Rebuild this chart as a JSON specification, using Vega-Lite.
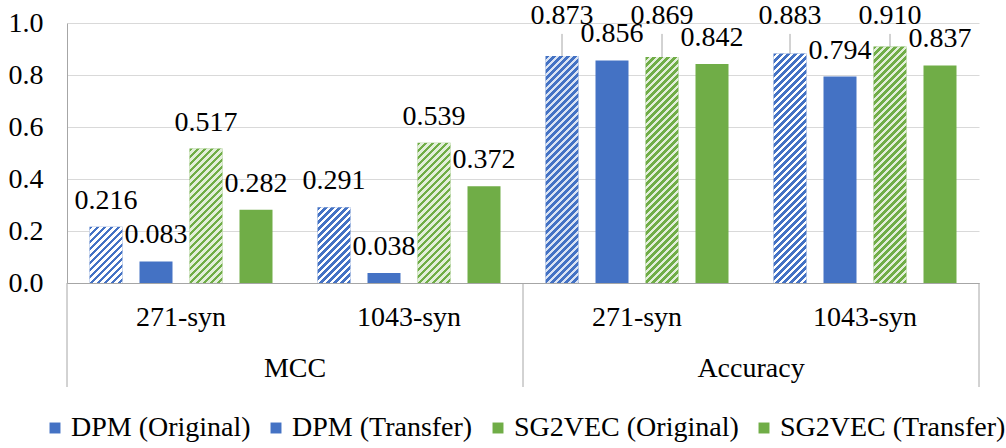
{
  "$schema": "https://vega.github.io/schema/vega-lite/v6.json",
  "padding": {"left": 8, "top": 1, "right": 0, "bottom": 0},
  "width": 912,
  "height": 260,
  "data": {
    "values": [
      {"metric": "MCC", "dataset": "271-syn", "series": "DPM (Original)", "value": 0.216},
      {"metric": "MCC", "dataset": "271-syn", "series": "DPM (Transfer)", "value": 0.083},
      {"metric": "MCC", "dataset": "271-syn", "series": "SG2VEC (Original)", "value": 0.517},
      {"metric": "MCC", "dataset": "271-syn", "series": "SG2VEC (Transfer)", "value": 0.282},
      {"metric": "MCC", "dataset": "1043-syn", "series": "DPM (Original)", "value": 0.291},
      {"metric": "MCC", "dataset": "1043-syn", "series": "DPM (Transfer)", "value": 0.038},
      {"metric": "MCC", "dataset": "1043-syn", "series": "SG2VEC (Original)", "value": 0.539},
      {"metric": "MCC", "dataset": "1043-syn", "series": "SG2VEC (Transfer)", "value": 0.372},
      {"metric": "Accuracy", "dataset": "271-syn", "series": "DPM (Original)", "value": 0.873},
      {"metric": "Accuracy", "dataset": "271-syn", "series": "DPM (Transfer)", "value": 0.856},
      {"metric": "Accuracy", "dataset": "271-syn", "series": "SG2VEC (Original)", "value": 0.869},
      {"metric": "Accuracy", "dataset": "271-syn", "series": "SG2VEC (Transfer)", "value": 0.842},
      {"metric": "Accuracy", "dataset": "1043-syn", "series": "DPM (Original)", "value": 0.883},
      {"metric": "Accuracy", "dataset": "1043-syn", "series": "DPM (Transfer)", "value": 0.794},
      {"metric": "Accuracy", "dataset": "1043-syn", "series": "SG2VEC (Original)", "value": 0.910},
      {"metric": "Accuracy", "dataset": "1043-syn", "series": "SG2VEC (Transfer)", "value": 0.837}
    ]
  },
  "transform": [
    {"calculate": "datum.metric + '|' + datum.dataset", "as": "group"}
  ],
  "encoding": {
    "x": {
      "field": "group", "type": "nominal",
      "sort": ["MCC|271-syn", "MCC|1043-syn", "Accuracy|271-syn", "Accuracy|1043-syn"],
      "scale": {"paddingInner": 0, "paddingOuter": 0}
    }
  },
  "layer": [
    {
      "mark": {"type": "bar"},
      "encoding": {
        "x": {
          "field": "group", "type": "nominal",
          "sort": ["MCC|271-syn", "MCC|1043-syn", "Accuracy|271-syn", "Accuracy|1043-syn"],
          "axis": {"title": null, "labelAngle": 0, "labelPadding": 20, "ticks": false, "domainColor": "#a6a6a6", "labelExpr": "split(datum.label, '|')[1]"}
        },
        "xOffset": {
          "field": "series", "type": "nominal",
          "sort": ["DPM (Original)", "DPM (Transfer)", "SG2VEC (Original)", "SG2VEC (Transfer)"],
          "scale": {"paddingInner": 0.34, "paddingOuter": 0.45}
        },
        "y": {
          "field": "value", "type": "quantitative", "stack": null,
          "scale": {"domain": [0, 1], "nice": false},
          "axis": {"title": null, "values": [0, 0.2, 0.4, 0.6, 0.8, 1], "format": ".1f", "grid": true, "gridColor": "#d9d9d9", "ticks": false, "labelPadding": 24, "labelFlush": false, "domainColor": "#a6a6a6"}
        },
        "color": {
          "field": "series", "type": "nominal",
          "scale": {
            "domain": ["DPM (Original)", "DPM (Transfer)", "SG2VEC (Original)", "SG2VEC (Transfer)"],
            "range": ["#4472c4", "#4472c4", "#70ad47", "#70ad47"]
          },
          "legend": {
            "orient": "bottom",
            "direction": "horizontal",
            "title": null,
            "symbolType": "square",
            "symbolSize": 120,
            "symbolStrokeWidth": 0,
            "labelOffset": 2,
            "columnPadding": 11,
            "labelLimit": 400,
            "offset": 83
          }
        }
      }
    },
    {
      "transform": [{"filter": "indexof(datum.series, 'Original') >= 0"}],
      "mark": {
        "type": "bar",
        "clip": true,
        "y2Offset": 260,
        "fill": {
          "gradient": "linear",
          "x1": 0, "y1": 0, "x2": 0.14125, "y2": 1.11284,
          "stops": [
            {"offset": 0, "color": "rgba(255,255,255,0)"}, {"offset": 0.0119, "color": "rgba(255,255,255,0)"}, {"offset": 0.0119, "color": "#ffffff"}, {"offset": 0.0238, "color": "#ffffff"},
            {"offset": 0.0238, "color": "rgba(255,255,255,0)"}, {"offset": 0.0357, "color": "rgba(255,255,255,0)"}, {"offset": 0.0357, "color": "#ffffff"}, {"offset": 0.0476, "color": "#ffffff"},
            {"offset": 0.0476, "color": "rgba(255,255,255,0)"}, {"offset": 0.0595, "color": "rgba(255,255,255,0)"}, {"offset": 0.0595, "color": "#ffffff"}, {"offset": 0.0714, "color": "#ffffff"},
            {"offset": 0.0714, "color": "rgba(255,255,255,0)"}, {"offset": 0.0833, "color": "rgba(255,255,255,0)"}, {"offset": 0.0833, "color": "#ffffff"}, {"offset": 0.0952, "color": "#ffffff"},
            {"offset": 0.0952, "color": "rgba(255,255,255,0)"}, {"offset": 0.1071, "color": "rgba(255,255,255,0)"}, {"offset": 0.1071, "color": "#ffffff"}, {"offset": 0.1190, "color": "#ffffff"},
            {"offset": 0.1190, "color": "rgba(255,255,255,0)"}, {"offset": 0.1310, "color": "rgba(255,255,255,0)"}, {"offset": 0.1310, "color": "#ffffff"}, {"offset": 0.1429, "color": "#ffffff"},
            {"offset": 0.1429, "color": "rgba(255,255,255,0)"}, {"offset": 0.1548, "color": "rgba(255,255,255,0)"}, {"offset": 0.1548, "color": "#ffffff"}, {"offset": 0.1667, "color": "#ffffff"},
            {"offset": 0.1667, "color": "rgba(255,255,255,0)"}, {"offset": 0.1786, "color": "rgba(255,255,255,0)"}, {"offset": 0.1786, "color": "#ffffff"}, {"offset": 0.1905, "color": "#ffffff"},
            {"offset": 0.1905, "color": "rgba(255,255,255,0)"}, {"offset": 0.2024, "color": "rgba(255,255,255,0)"}, {"offset": 0.2024, "color": "#ffffff"}, {"offset": 0.2143, "color": "#ffffff"},
            {"offset": 0.2143, "color": "rgba(255,255,255,0)"}, {"offset": 0.2262, "color": "rgba(255,255,255,0)"}, {"offset": 0.2262, "color": "#ffffff"}, {"offset": 0.2381, "color": "#ffffff"},
            {"offset": 0.2381, "color": "rgba(255,255,255,0)"}, {"offset": 0.2500, "color": "rgba(255,255,255,0)"}, {"offset": 0.2500, "color": "#ffffff"}, {"offset": 0.2619, "color": "#ffffff"},
            {"offset": 0.2619, "color": "rgba(255,255,255,0)"}, {"offset": 0.2738, "color": "rgba(255,255,255,0)"}, {"offset": 0.2738, "color": "#ffffff"}, {"offset": 0.2857, "color": "#ffffff"},
            {"offset": 0.2857, "color": "rgba(255,255,255,0)"}, {"offset": 0.2976, "color": "rgba(255,255,255,0)"}, {"offset": 0.2976, "color": "#ffffff"}, {"offset": 0.3095, "color": "#ffffff"},
            {"offset": 0.3095, "color": "rgba(255,255,255,0)"}, {"offset": 0.3214, "color": "rgba(255,255,255,0)"}, {"offset": 0.3214, "color": "#ffffff"}, {"offset": 0.3333, "color": "#ffffff"},
            {"offset": 0.3333, "color": "rgba(255,255,255,0)"}, {"offset": 0.3452, "color": "rgba(255,255,255,0)"}, {"offset": 0.3452, "color": "#ffffff"}, {"offset": 0.3571, "color": "#ffffff"},
            {"offset": 0.3571, "color": "rgba(255,255,255,0)"}, {"offset": 0.3690, "color": "rgba(255,255,255,0)"}, {"offset": 0.3690, "color": "#ffffff"}, {"offset": 0.3810, "color": "#ffffff"},
            {"offset": 0.3810, "color": "rgba(255,255,255,0)"}, {"offset": 0.3929, "color": "rgba(255,255,255,0)"}, {"offset": 0.3929, "color": "#ffffff"}, {"offset": 0.4048, "color": "#ffffff"},
            {"offset": 0.4048, "color": "rgba(255,255,255,0)"}, {"offset": 0.4167, "color": "rgba(255,255,255,0)"}, {"offset": 0.4167, "color": "#ffffff"}, {"offset": 0.4286, "color": "#ffffff"},
            {"offset": 0.4286, "color": "rgba(255,255,255,0)"}, {"offset": 0.4405, "color": "rgba(255,255,255,0)"}, {"offset": 0.4405, "color": "#ffffff"}, {"offset": 0.4524, "color": "#ffffff"},
            {"offset": 0.4524, "color": "rgba(255,255,255,0)"}, {"offset": 0.4643, "color": "rgba(255,255,255,0)"}, {"offset": 0.4643, "color": "#ffffff"}, {"offset": 0.4762, "color": "#ffffff"},
            {"offset": 0.4762, "color": "rgba(255,255,255,0)"}, {"offset": 0.4881, "color": "rgba(255,255,255,0)"}, {"offset": 0.4881, "color": "#ffffff"}, {"offset": 0.5000, "color": "#ffffff"},
            {"offset": 0.5000, "color": "rgba(255,255,255,0)"}, {"offset": 0.5119, "color": "rgba(255,255,255,0)"}, {"offset": 0.5119, "color": "#ffffff"}, {"offset": 0.5238, "color": "#ffffff"},
            {"offset": 0.5238, "color": "rgba(255,255,255,0)"}, {"offset": 0.5357, "color": "rgba(255,255,255,0)"}, {"offset": 0.5357, "color": "#ffffff"}, {"offset": 0.5476, "color": "#ffffff"},
            {"offset": 0.5476, "color": "rgba(255,255,255,0)"}, {"offset": 0.5595, "color": "rgba(255,255,255,0)"}, {"offset": 0.5595, "color": "#ffffff"}, {"offset": 0.5714, "color": "#ffffff"},
            {"offset": 0.5714, "color": "rgba(255,255,255,0)"}, {"offset": 0.5833, "color": "rgba(255,255,255,0)"}, {"offset": 0.5833, "color": "#ffffff"}, {"offset": 0.5952, "color": "#ffffff"},
            {"offset": 0.5952, "color": "rgba(255,255,255,0)"}, {"offset": 0.6071, "color": "rgba(255,255,255,0)"}, {"offset": 0.6071, "color": "#ffffff"}, {"offset": 0.6190, "color": "#ffffff"},
            {"offset": 0.6190, "color": "rgba(255,255,255,0)"}, {"offset": 0.6310, "color": "rgba(255,255,255,0)"}, {"offset": 0.6310, "color": "#ffffff"}, {"offset": 0.6429, "color": "#ffffff"},
            {"offset": 0.6429, "color": "rgba(255,255,255,0)"}, {"offset": 0.6548, "color": "rgba(255,255,255,0)"}, {"offset": 0.6548, "color": "#ffffff"}, {"offset": 0.6667, "color": "#ffffff"},
            {"offset": 0.6667, "color": "rgba(255,255,255,0)"}, {"offset": 0.6786, "color": "rgba(255,255,255,0)"}, {"offset": 0.6786, "color": "#ffffff"}, {"offset": 0.6905, "color": "#ffffff"},
            {"offset": 0.6905, "color": "rgba(255,255,255,0)"}, {"offset": 0.7024, "color": "rgba(255,255,255,0)"}, {"offset": 0.7024, "color": "#ffffff"}, {"offset": 0.7143, "color": "#ffffff"},
            {"offset": 0.7143, "color": "rgba(255,255,255,0)"}, {"offset": 0.7262, "color": "rgba(255,255,255,0)"}, {"offset": 0.7262, "color": "#ffffff"}, {"offset": 0.7381, "color": "#ffffff"},
            {"offset": 0.7381, "color": "rgba(255,255,255,0)"}, {"offset": 0.7500, "color": "rgba(255,255,255,0)"}, {"offset": 0.7500, "color": "#ffffff"}, {"offset": 0.7619, "color": "#ffffff"},
            {"offset": 0.7619, "color": "rgba(255,255,255,0)"}, {"offset": 0.7738, "color": "rgba(255,255,255,0)"}, {"offset": 0.7738, "color": "#ffffff"}, {"offset": 0.7857, "color": "#ffffff"},
            {"offset": 0.7857, "color": "rgba(255,255,255,0)"}, {"offset": 0.7976, "color": "rgba(255,255,255,0)"}, {"offset": 0.7976, "color": "#ffffff"}, {"offset": 0.8095, "color": "#ffffff"},
            {"offset": 0.8095, "color": "rgba(255,255,255,0)"}, {"offset": 0.8214, "color": "rgba(255,255,255,0)"}, {"offset": 0.8214, "color": "#ffffff"}, {"offset": 0.8333, "color": "#ffffff"},
            {"offset": 0.8333, "color": "rgba(255,255,255,0)"}, {"offset": 0.8452, "color": "rgba(255,255,255,0)"}, {"offset": 0.8452, "color": "#ffffff"}, {"offset": 0.8571, "color": "#ffffff"},
            {"offset": 0.8571, "color": "rgba(255,255,255,0)"}, {"offset": 0.8690, "color": "rgba(255,255,255,0)"}, {"offset": 0.8690, "color": "#ffffff"}, {"offset": 0.8810, "color": "#ffffff"},
            {"offset": 0.8810, "color": "rgba(255,255,255,0)"}, {"offset": 0.8929, "color": "rgba(255,255,255,0)"}, {"offset": 0.8929, "color": "#ffffff"}, {"offset": 0.9048, "color": "#ffffff"},
            {"offset": 0.9048, "color": "rgba(255,255,255,0)"}, {"offset": 0.9167, "color": "rgba(255,255,255,0)"}, {"offset": 0.9167, "color": "#ffffff"}, {"offset": 0.9286, "color": "#ffffff"},
            {"offset": 0.9286, "color": "rgba(255,255,255,0)"}, {"offset": 0.9405, "color": "rgba(255,255,255,0)"}, {"offset": 0.9405, "color": "#ffffff"}, {"offset": 0.9524, "color": "#ffffff"},
            {"offset": 0.9524, "color": "rgba(255,255,255,0)"}, {"offset": 0.9643, "color": "rgba(255,255,255,0)"}, {"offset": 0.9643, "color": "#ffffff"}, {"offset": 0.9762, "color": "#ffffff"},
            {"offset": 0.9762, "color": "rgba(255,255,255,0)"}, {"offset": 0.9881, "color": "rgba(255,255,255,0)"}, {"offset": 0.9881, "color": "#ffffff"}, {"offset": 1, "color": "#ffffff"}
          ]
        }
      },
      "encoding": {
        "xOffset": {"field": "series", "type": "nominal", "sort": ["DPM (Original)", "DPM (Transfer)", "SG2VEC (Original)", "SG2VEC (Transfer)"]},
        "y": {"field": "value", "type": "quantitative"},
        "y2": {"field": "value"},
        "fillOpacity": {
          "condition": {"test": "datum.series === 'SG2VEC (Original)' || (datum.metric === 'Accuracy' && datum.dataset === '271-syn')", "value": 0.8},
          "value": 1
        }
      }
    },
    {
      "transform": [{"filter": "datum.dataset === '271-syn' && datum.series === 'DPM (Original)'"}],
      "mark": {"type": "rule", "color": "#a6a6a6", "strokeWidth": 1},
      "encoding": {
        "x": {"field": "group", "type": "nominal", "sort": ["MCC|271-syn", "MCC|1043-syn", "Accuracy|271-syn", "Accuracy|1043-syn"], "bandPosition": 0},
        "y": {"datum": 0},
        "y2": {"datum": -0.4}
      }
    },
    {
      "transform": [{"filter": "datum.metric === 'Accuracy' && datum.dataset === '1043-syn' && datum.series === 'DPM (Original)'"}],
      "mark": {"type": "rule", "color": "#a6a6a6", "strokeWidth": 1},
      "encoding": {
        "x": {"field": "group", "type": "nominal", "sort": ["MCC|271-syn", "MCC|1043-syn", "Accuracy|271-syn", "Accuracy|1043-syn"], "bandPosition": 1},
        "y": {"datum": 0},
        "y2": {"datum": -0.4}
      }
    },
    {
      "transform": [{"filter": "datum.dataset === '1043-syn' && datum.series === 'DPM (Original)'"}],
      "mark": {"type": "text", "baseline": "middle", "fontSize": 28, "color": "#000000"},
      "encoding": {
        "x": {"field": "group", "type": "nominal", "sort": ["MCC|271-syn", "MCC|1043-syn", "Accuracy|271-syn", "Accuracy|1043-syn"], "bandPosition": 0},
        "y": {"datum": -0.33},
        "text": {"field": "metric"}
      }
    },
    {
      "transform": [{"filter": "!(datum.metric === 'Accuracy' && indexof(datum.series, 'Original') >= 0)"}],
      "mark": {"type": "text", "baseline": "middle", "dy": -26, "fontSize": 28, "color": "#000000"},
      "encoding": {
        "xOffset": {"field": "series", "type": "nominal", "sort": ["DPM (Original)", "DPM (Transfer)", "SG2VEC (Original)", "SG2VEC (Transfer)"]},
        "y": {"field": "value", "type": "quantitative"},
        "text": {"field": "value", "type": "quantitative", "format": ".3f"}
      }
    },
    {
      "transform": [{"filter": "datum.metric === 'Accuracy' && indexof(datum.series, 'Original') >= 0"}],
      "mark": {"type": "rule", "color": "#a6a6a6", "strokeWidth": 1},
      "encoding": {
        "xOffset": {"field": "series", "type": "nominal", "sort": ["DPM (Original)", "DPM (Transfer)", "SG2VEC (Original)", "SG2VEC (Transfer)"]},
        "y": {"field": "value", "type": "quantitative"},
        "y2": {"datum": 0.958}
      }
    },
    {
      "transform": [{"filter": "datum.metric === 'Accuracy' && indexof(datum.series, 'Original') >= 0"}],
      "mark": {"type": "text", "baseline": "middle", "fontSize": 28, "color": "#000000"},
      "encoding": {
        "xOffset": {"field": "series", "type": "nominal", "sort": ["DPM (Original)", "DPM (Transfer)", "SG2VEC (Original)", "SG2VEC (Transfer)"]},
        "y": {"datum": 1.027},
        "text": {"field": "value", "type": "quantitative", "format": ".3f"}
      }
    }
  ],
  "config": {
    "view": {"stroke": null},
    "font": "Liberation Serif",
    "text": {"font": "Liberation Serif"},
    "axis": {"labelFont": "Liberation Serif", "labelFontSize": 28, "labelColor": "#000000"},
    "legend": {
      "labelFont": "Liberation Serif",
      "labelFontSize": 28,
      "labelColor": "#000000",
      "layout": {"bottom": {"anchor": "middle", "center": true}}
    }
  }
}
